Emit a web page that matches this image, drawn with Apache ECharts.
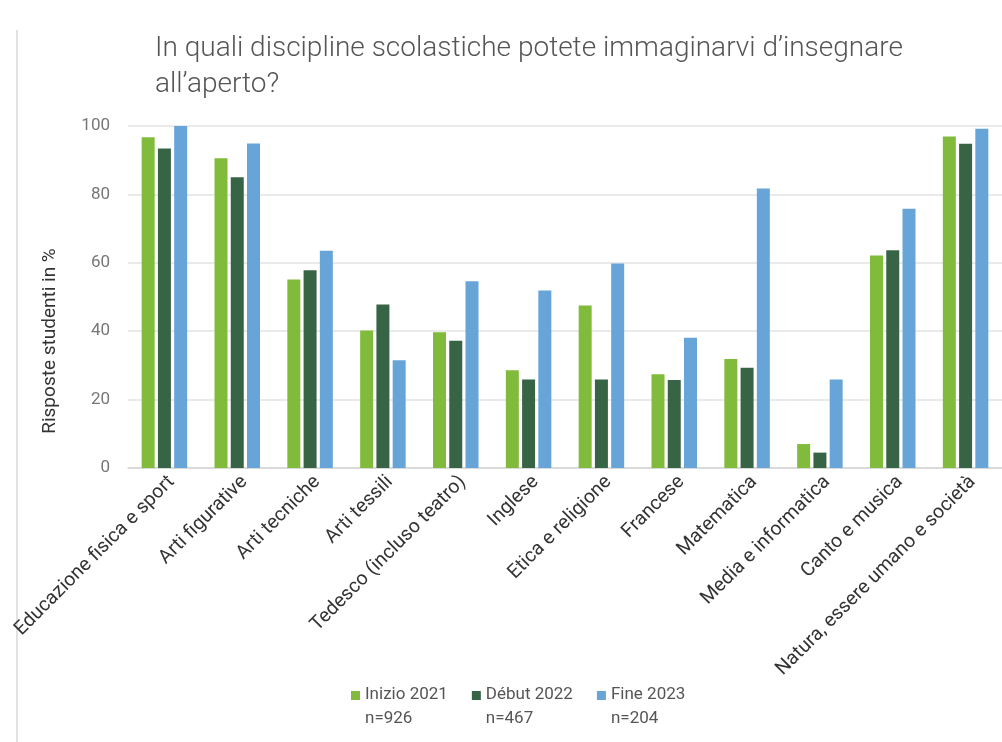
<!DOCTYPE html>
<html>
<head>
<meta charset="utf-8">
<script src="https://cdn.jsdelivr.net/npm/echarts@6/dist/echarts.min.js"></script>
<style>
 html, body { margin: 0; padding: 0; background: #fff; }
 #tubiao { width: 1002px; height: 742px; }
</style>
</head>
<body>
<div id="tubiao"></div>
<script>
// categorie e valori
var materie = ['Educazione fisica e sport', 'Arti figurative', 'Arti tecniche', 'Arti tessili',
	'Tedesco (incluso teatro)', 'Inglese', 'Etica e religione', 'Francese', 'Matematica',
	'Media e informatica', 'Canto e musica', 'Natura, essere umano e società'];
var inizio2021 = [96.7, 90.6, 55.1, 40.2, 39.7, 28.6, 47.5, 27.4, 31.9, 7.0, 62.1, 96.9];
var debut2022 = [93.4, 85.0, 57.8, 47.8, 37.2, 25.9, 25.9, 25.7, 29.3, 4.5, 63.7, 94.8];
var fine2023 = [100, 94.9, 63.5, 31.5, 54.6, 51.9, 59.8, 38.1, 81.7, 25.9, 75.8, 99.2];
var serieNomi = ['Inizio 2021\nn=926', 'Début 2022\nn=467', 'Fine 2023\nn=204'];
var yTicks = [0, 20, 40, 60, 80, 100];

var myChart = echarts.init(document.getElementById('tubiao'));
var font = 'Roboto';
var option = {
	backgroundColor: '#fff',
	textStyle: { fontFamily: font },
	title: {
		text: "In quali discipline scolastiche potete immaginarvi d\u2019insegnare\nall\u2019aperto?",
		left: 150,
		top: 26,
		textStyle: { fontSize: 28, fontWeight: 300, color: '#555', lineHeight: 36, fontFamily: font }
	},
	graphic: [{
		type: 'line',
		shape: { x1: 17, y1: 30, x2: 17, y2: 742 },
		style: { stroke: '#d8d8d8', lineWidth: 1.5 }
	}],
	legend: {
		bottom: 6,
		left: 346,
		itemWidth: 9,
		itemHeight: 32,
		itemGap: 24,
		// quadratino allineato con la prima riga del testo
		icon: 'path://M0,0H10V10H0Z M0,35.5',
		textStyle: { fontSize: 17, color: '#555', lineHeight: 24, fontFamily: font },
		data: serieNomi
	},
	grid: {
		left: 128,
		right: -8,
		top: 126,
		bottom: 274,
		containLabel: false
	},
	xAxis: {
		type: 'category',
		data: materie,
		axisLine: { lineStyle: { color: '#d5d5d5', width: 1.5 } },
		axisTick: { show: false },
		axisLabel: {
			rotate: 45,
			interval: 0,
			margin: 4,
			verticalAlign: 'top',
			fontSize: 19.5,
			color: '#333',
			fontFamily: font
		}
	},
	yAxis: {
		type: 'value',
		min: yTicks[0],
		max: yTicks[yTicks.length - 1],
		interval: 20,
		name: 'Risposte studenti in %',
		nameLocation: 'middle',
		nameGap: 68,
		nameTextStyle: { fontSize: 19, color: '#333', fontFamily: font, padding: [0, 88, 0, 0] },
		axisLine: { show: false },
		axisTick: { show: false },
		axisLabel: { fontSize: 17, color: '#777', margin: 18, fontFamily: font },
		splitLine: { lineStyle: { color: '#e3e3e3', width: 1.5 } }
	},
	series: [
		{ name: serieNomi[0], type: 'bar', data: inizio2021, barWidth: 13, barGap: '25%', itemStyle: { color: '#80bb3b' } },
		{ name: serieNomi[1], type: 'bar', data: debut2022, barWidth: 13, barGap: '25%', itemStyle: { color: '#386446' } },
		{ name: serieNomi[2], type: 'bar', data: fine2023, barWidth: 13, barGap: '25%', itemStyle: { color: '#67a5d9' } }
	]
};
myChart.setOption(option);
</script>
</body>
</html>
